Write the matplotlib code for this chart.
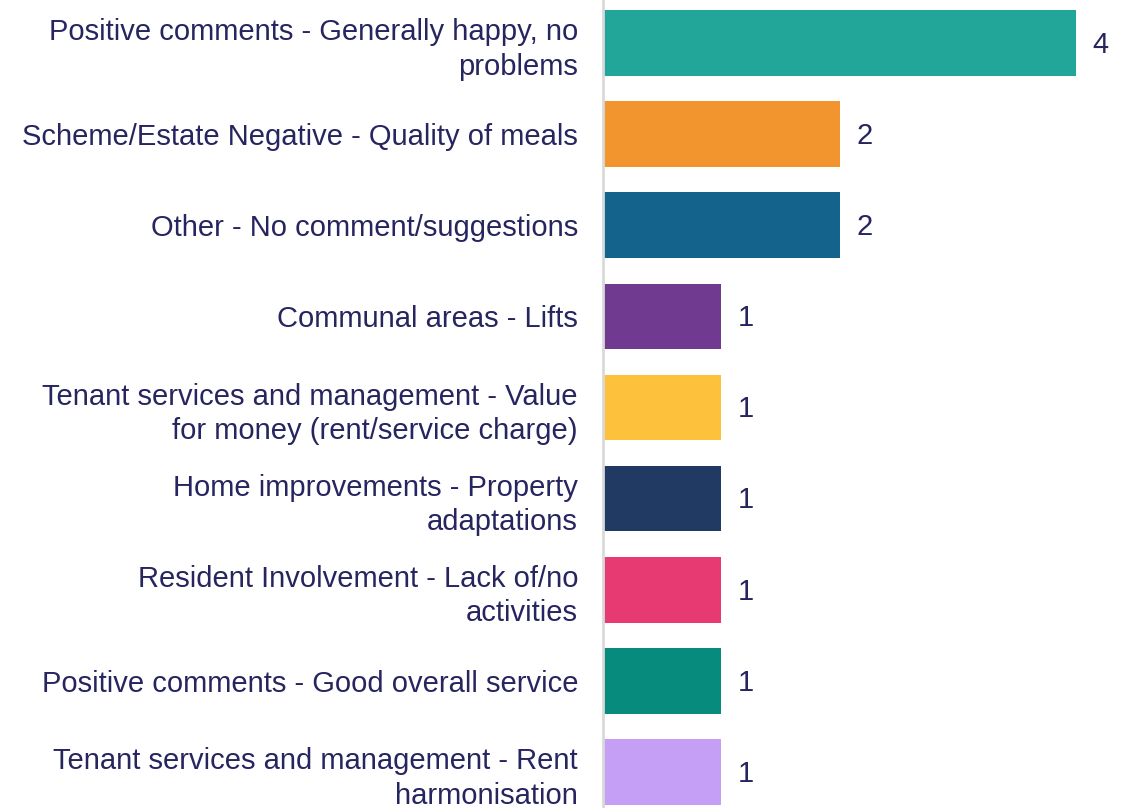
import matplotlib.pyplot as plt

categories = [
    "Positive comments - Generally happy, no\nproblems",
    "Scheme/Estate Negative - Quality of meals",
    "Other - No comment/suggestions",
    "Communal areas - Lifts",
    "Tenant services and management - Value\nfor money (rent/service charge)",
    "Home improvements - Property\nadaptations",
    "Resident Involvement - Lack of/no\nactivities",
    "Positive comments - Good overall service",
    "Tenant services and management - Rent\nharmonisation",
]
counts = [4, 2, 2, 1, 1, 1, 1, 1, 1]
colors = ["#22A699", "#F2952F", "#14638C", "#6F3A8F", "#FDC13C",
          "#213A63", "#E83A72", "#068B7C", "#C59EF5"]

text_color = "#27255F"
plt.rcParams['font.family'] = ['Liberation Sans', 'DejaVu Sans']

fig = plt.figure(figsize=(11.34, 8.08), dpi=100)
ax = fig.add_axes([603 / 1134, 0, 531 / 1134, 1])

y = list(range(len(categories)))
ax.barh(y, counts, height=0.72, color=colors)
ax.set_ylim(8.395, -0.472)
ax.set_xlim(0, 531 / 118.25)

for yi, c in zip(y, counts):
    ax.text(c + 0.14, yi + 0.02, str(c), va="center", ha="left",
            fontsize=21, color=text_color)

ax.set_yticks(y)
ax.set_yticklabels(categories, fontsize=21, color=text_color, linespacing=1.3)
ax.tick_params(axis="y", length=0, pad=18)
ax.set_xticks([])

for s in ["top", "right", "bottom"]:
    ax.spines[s].set_visible(False)
ax.spines["left"].set_color("#D9D9D9")
ax.spines["left"].set_linewidth(2)

fig.savefig("out.png", dpi=100)
